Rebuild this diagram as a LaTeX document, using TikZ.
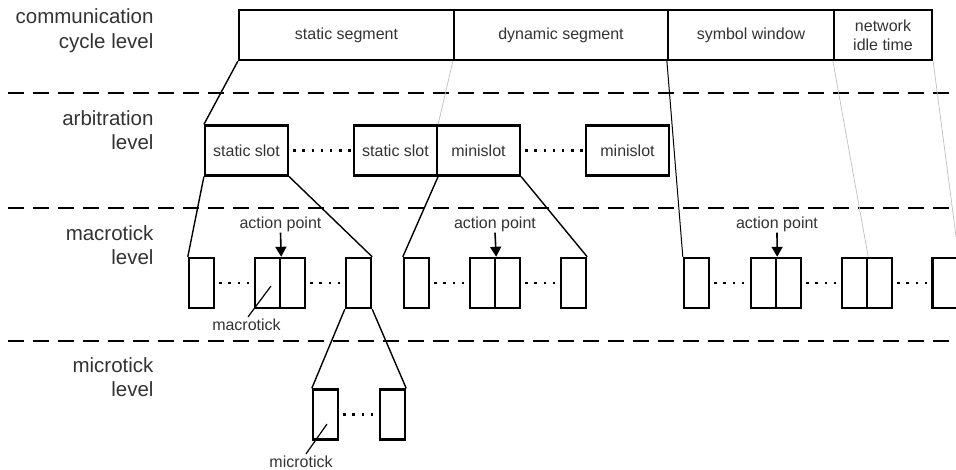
\documentclass[tikz,border=0pt]{standalone}
\usepackage{fontspec}
\setmainfont{Liberation Sans}
\usetikzlibrary{arrows.meta}
\begin{document}
\begin{tikzpicture}[x=1pt,y=-1pt,
  box/.style={draw,line width=2.2pt,minimum height=50pt,inner sep=0pt,font=\fontsize{16}{18}\selectfont,text=black!80},
  tick/.style={draw,line width=2.4pt,minimum width=25pt,minimum height=50pt,inner sep=0pt},
  lvl/.style={anchor=east,align=right,font=\fontsize{20.5}{24.5}\selectfont,text=black!80},
  lab/.style={inner sep=1pt,font=\fontsize{16}{18}\selectfont,text=black!80},
  sep/.style={line width=2.8pt,dash pattern=on 16pt off 9pt},
  dots/.style={line width=2.4pt,dash pattern=on 2.4pt off 6.8pt,dash phase=-4pt},
  link/.style={line width=1.4pt},
  faint/.style={line width=0.7pt,black!25}]
\clip (0,0) rectangle (956,470);
\node[lvl] (l0) at (157,30.5) {communication\\cycle level};
\node[lvl] (l1) at (157,130) {arbitration\\level};
\node[lvl] (l2) at (157,245) {macrotick\\level};
\node[lvl] (l3) at (157,377) {microtick\\level};
\draw[sep] (8,93) -- (956,93);
\draw[sep] (8,208) -- (956,208);
\draw[sep] (8,341) -- (956,341);
\node[box,minimum width=215] (sseg) at (346.5,35) {static segment};
\node[box,minimum width=214] (dseg) at (561,35) {dynamic segment};
\node[box,minimum width=166] (symw) at (751,35) {symbol window};
\node[box,minimum width=98,align=center,font=\fontsize{16}{19}\selectfont] (nit) at (883,35) {network\\idle time};
\node[box,minimum width=83] (ss1) at (246.5,150.5) {static slot};
\node[box,minimum width=83] (ss2) at (395.5,150.5) {static slot};
\node[box,minimum width=83] (ms1) at (478.5,150.5) {minislot};
\node[box,minimum width=83] (ms2) at (627.5,150.5) {minislot};
\node[tick] (m1) at (201.5,283) {};
\node[tick] (m2a) at (267.5,283) {};
\node[tick] (m2b) at (292.5,283) {};
\node[tick] (m3) at (358.5,283) {};
\node[tick] (m4) at (416.5,283) {};
\node[tick] (m5a) at (482.5,283) {};
\node[tick] (m5b) at (507.5,283) {};
\node[tick] (m6) at (573.5,283) {};
\node[tick] (m7) at (696.5,283) {};
\node[tick] (m8a) at (763.5,283) {};
\node[tick] (m8b) at (788.5,283) {};
\node[tick] (m9a) at (854.5,283) {};
\node[tick] (m9b) at (879.5,283) {};
\node[tick] (m10) at (945,283) {};
\node[tick] (u1) at (325.5,414.5) {};
\node[tick] (u2) at (392.5,414.5) {};
\draw[link] (sseg.south west) -- (ss1.north west);
\draw[faint] (dseg.south west) -- (ss2.north east);
\draw[link,line width=1pt] (symw.south west) -- (m7.north west);
\draw[faint] (nit.south west) -- (m9a.north east);
\draw[faint] (nit.south east) -- (m10.north east);
\draw[link] (ss1.south west) -- (m1.north west);
\draw[link] (ss1.south east) -- (m3.north east);
\draw[link] (ss2.south east) -- (m4.north west);
\draw[link] (ms1.south east) -- (m6.north east);
\draw[link] (m3.south west) -- (u1.north west);
\draw[link] (m3.south east) -- (u2.north east);
\draw[dots] (ss1.east) -- (ss2.west);
\draw[dots] (ms1.east) -- (ms2.west);
\draw[dots] (m1.east) -- (m2a.west);
\draw[dots] (m2b.east) -- (m3.west);
\draw[dots] (m4.east) -- (m5a.west);
\draw[dots] (m5b.east) -- (m6.west);
\draw[dots] (m7.east) -- (m8a.west);
\draw[dots] (m8b.east) -- (m9a.west);
\draw[dots] (m9b.east) -- (m10.west);
\draw[dots] (u1.east) -- (u2.west);
\node[lab] (ap1) at (280.5,224) {action point};
\node[lab] (ap2) at (495,224) {action point};
\node[lab] (ap3) at (777,224) {action point};
\draw[line width=1.6pt,-{Triangle[length=10pt,width=11pt]}] (ap1.south) -- (m2a.north east);
\draw[line width=1.6pt,-{Triangle[length=10pt,width=11pt]}] (ap2.south) -- (m5a.north east);
\draw[line width=1.6pt,-{Triangle[length=10pt,width=11pt]}] (ap3.south) -- (m8a.north east);
\node[lab] (mlab) at (246.5,325) {macrotick};
\node[lab] (ulab) at (301,462) {microtick};
\coordinate (mtip) at (271,286);
\coordinate (utip) at (327,424);
\draw[line width=1.2pt] (mlab.north) ++(1.5,-1) -- (mtip);
\draw[line width=1.2pt] (ulab.north) ++(5,-1) -- (utip);
\end{tikzpicture}
\end{document}
